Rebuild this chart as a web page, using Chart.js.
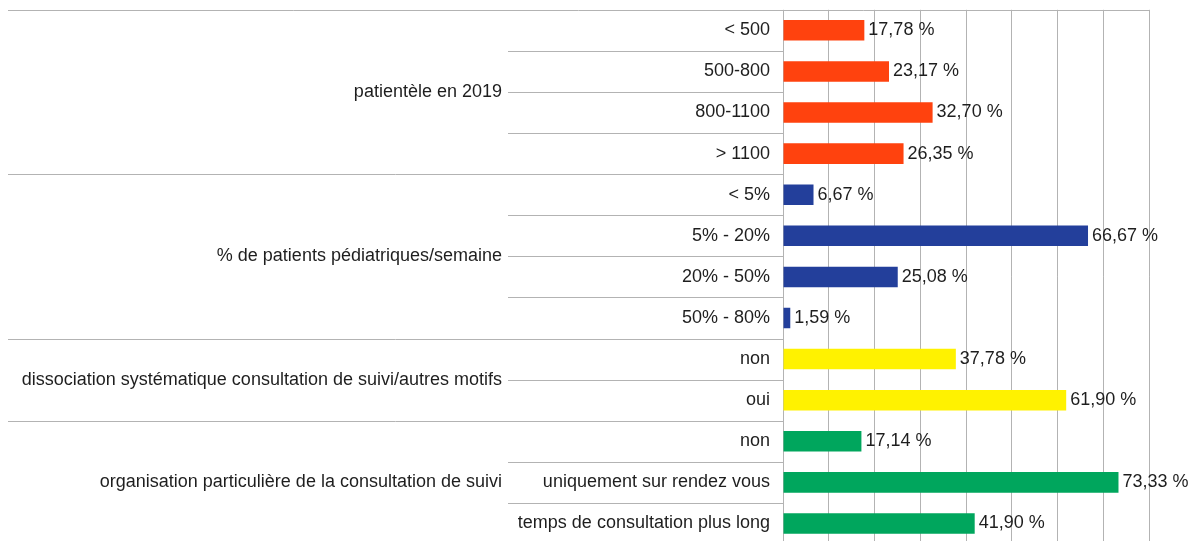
<!DOCTYPE html>
<html>
<head>
<meta charset="utf-8">
<script src="https://cdn.jsdelivr.net/npm/chart.js@4"></script>
<style>
  html, body { margin: 0; padding: 0; background: #fff; overflow: hidden; }
  #wrap { position: relative; width: 1197px; height: 541px; overflow: hidden; }
  #chart { position: absolute; left: 0; top: -6px; }
</style>
</head>
<body>
<div id="wrap"><canvas id="chart" width="1197" height="568"></canvas></div>
<script>
/* ── data ── */
const groups = [
  'patientèle en 2019',
  '% de patients pédiatriques/semaine',
  'dissociation systématique consultation de suivi/autres motifs',
  'organisation particulière de la consultation de suivi'
];
const groupSizes = [4, 4, 2, 3];
const groupColors = ['#ff420e', '#233f9b', '#fff200', '#00a65d'];

const categories = [
  '< 500', '500-800', '800-1100', '> 1100',
  '< 5%', '5% - 20%', '20% - 50%', '50% - 80%',
  'non', 'oui',
  'non', 'uniquement sur rendez vous', 'temps de consultation plus long'
];
const values = [17.78, 23.17, 32.70, 26.35, 6.67, 66.67, 25.08, 1.59, 37.78, 61.90, 17.14, 73.33, 41.90];

const FONT = "'Liberation Sans', Arial, sans-serif";
const TEXT = '#1e1e1e';
const LINE = '#b3b3b3';

// one colour per bar, taken from its group
const barColors = [];
groupSizes.forEach((n, g) => { for (let i = 0; i < n; i++) barColors.push(groupColors[g]); });

/* ── separators, group labels, value labels ── */
const groupAxis = {
  id: 'groupAxis',
  afterDraw(chart) {
    const { ctx, chartArea } = chart;
    const y = chart.scales.y;
    const step = y.getPixelForValue(1) - y.getPixelForValue(0);
    const edge = i => y.getPixelForValue(i) - step / 2;

    ctx.save();
    ctx.strokeStyle = LINE;
    ctx.lineWidth = 1;

    // top line
    ctx.beginPath();
    ctx.moveTo(8, Math.round(chartArea.top) + 0.5);
    ctx.lineTo(chartArea.right, Math.round(chartArea.top) + 0.5);
    ctx.stroke();

    let start = 0;
    groupSizes.forEach((n, g) => {
      // inner separators
      for (let i = start + 1; i < start + n; i++) {
        const yy = Math.round(edge(i)) + 0.5;
        ctx.beginPath();
        ctx.moveTo(508, yy);
        ctx.lineTo(chartArea.left, yy);
        ctx.stroke();
      }
      // group boundary
      if (g < groupSizes.length - 1) {
        const yy = Math.round(edge(start + n)) + 0.5;
        ctx.beginPath();
        ctx.moveTo(8, yy);
        ctx.lineTo(chartArea.left, yy);
        ctx.stroke();
      }
      // group label
      const mid = (edge(start) + edge(start + n)) / 2;
      ctx.fillStyle = TEXT;
      ctx.font = '18px ' + FONT;
      ctx.textAlign = 'right';
      ctx.textBaseline = 'middle';
      ctx.fillText(groups[g], 502, mid);
      start += n;
    });

    // value labels
    const meta = chart.getDatasetMeta(0);
    ctx.textAlign = 'left';
    meta.data.forEach((bar, i) => {
      ctx.fillText(values[i].toFixed(2).replace('.', ',') + ' %', bar.x + 4, bar.y);
    });
    ctx.restore();
  }
};

new Chart(document.getElementById('chart'), {
  type: 'bar',
  data: {
    labels: categories,
    datasets: [{
      data: values,
      backgroundColor: barColors,
      borderWidth: 0,
      categoryPercentage: 1,
      barPercentage: 0.5
    }]
  },
  options: {
    indexAxis: 'y',
    responsive: false,
    animation: false,
    layout: { padding: { top: 10, right: 48, bottom: 18, left: 0 } },
    plugins: { legend: { display: false }, tooltip: { enabled: false } },
    scales: {
      x: {
        min: 0, max: 80,
        ticks: { display: false, stepSize: 10 },
        grid: { color: LINE, drawTicks: false },
        border: { display: false }
      },
      y: {
        afterFit(scale) { scale.width = 783; },
        grid: { display: false },
        border: { display: false },
        ticks: { color: TEXT, font: { family: FONT, size: 18 }, padding: 5, autoSkip: false }
      }
    }
  },
  plugins: [groupAxis]
});
</script>
</body>
</html>
